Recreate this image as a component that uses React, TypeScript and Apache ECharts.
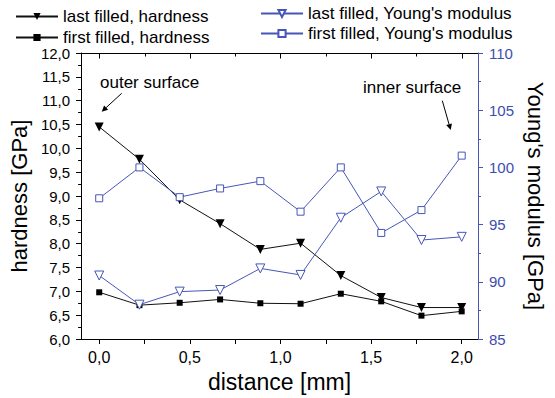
import React, { useEffect, useRef } from "react";
import * as echarts from "echarts";

const distance = [0, 0.222, 0.444, 0.667, 0.889, 1.111, 1.333, 1.556, 1.778, 2.0];
const hardnessLast = [10.45, 9.77, 8.92, 8.42, 7.88, 8.01, 7.33, 6.87, 6.66, 6.66];
const hardnessFirst = [6.98, 6.71, 6.76, 6.83, 6.75, 6.74, 6.95, 6.79, 6.49, 6.58];
const youngLast = [90.55, 88.0, 89.14, 89.28, 91.17, 90.6, 95.6, 97.9, 93.65, 93.93];
const youngFirst = [97.3, 100.0, 97.4, 98.16, 98.8, 96.13, 100.0, 94.27, 96.27, 101.03];
const xTicks = [0, 0.25, 0.5, 0.75, 1.0, 1.25, 1.5, 1.75, 2.0];
const xLabels = [0, 0.5, 1.0, 1.5, 2.0];
const X_MIN = -0.1;
const X_MAX = 2.09;
const H_MIN = 6;
const H_MAX = 12;

const FONT = "'Liberation Sans', Arial, sans-serif";
const BLUE = "#4656b8";
const BLUE_TXT = "#3d4db0";

const GRID = { left: 80, right: 77, top: 53, bottom: 49 };
const W = 555;

const fmt = (v: number) => v.toFixed(1).replace(".", ",");
const pairs = (ys: number[]) => ys.map((y, i) => [distance[i], y]);

function arrow(x1: number, y1: number, x2: number, y2: number) {
  const a = Math.atan2(y2 - y1, x2 - x1);
  const L = 6, Wd = 3;
  const bx = x2 - L * Math.cos(a), by = y2 - L * Math.sin(a);
  const px = -Math.sin(a) * Wd, py = Math.cos(a) * Wd;
  return [
    { type: "line", shape: { x1, y1, x2: bx, y2: by }, style: { stroke: "#000", lineWidth: 1 } },
    {
      type: "polygon",
      shape: { points: [[x2, y2], [bx + px, by + py], [bx - px, by - py]] },
      style: { fill: "#000" },
    },
  ];
}

export default function App() {
  const ref = useRef<HTMLDivElement>(null);
  useEffect(() => {
    const chart = echarts.init(ref.current!, null, { renderer: "svg" });
    chart.setOption({
      animation: false,
      textStyle: { fontFamily: FONT },
      grid: GRID,
      legend: [
        {
          data: ["last filled, hardness", "first filled, hardness"],
          left: 10,
          top: 3,
          orient: "vertical",
          itemWidth: 42,
          itemHeight: 9,
          itemGap: 4,
          textStyle: { fontSize: 17, color: "#000", fontFamily: FONT },
        },
        {
          data: ["last filled, Young's modulus", "first filled, Young's modulus"],
          left: 255,
          top: 0,
          orient: "vertical",
          itemWidth: 42,
          itemHeight: 9,
          itemGap: 3,
          textStyle: { fontSize: 17, color: "#000", fontFamily: FONT },
        },
      ],
      xAxis: {
        type: "value",
        min: X_MIN,
        max: X_MAX,
        position: "bottom",
        splitLine: { show: false },
        axisLine: { show: true, onZero: false, lineStyle: { color: "#000", width: 1 } },
        name: "distance [mm]",
        nameLocation: "middle",
        nameGap: 31,
        nameTextStyle: { fontSize: 23, color: "#000", fontFamily: FONT },
        axisTick: { show: true, length: 5, customValues: xTicks, lineStyle: { color: "#000" } },
        axisLabel: {
          customValues: xLabels,
          formatter: fmt,
          fontSize: 16,
          color: "#000",
          margin: 10,
          fontFamily: FONT,
        },
      },
      yAxis: [
        {
          type: "value",
          min: H_MIN,
          max: H_MAX,
          interval: 0.5,
          position: "left",
          splitLine: { show: false },
          axisLine: { show: true, onZero: false, lineStyle: { color: "#000" } },
          axisTick: { show: true, length: 5, lineStyle: { color: "#000" } },
          minorTick: { show: true, splitNumber: 2, length: 3, lineStyle: { color: "#000" } },
          axisLabel: { formatter: fmt, fontSize: 15, color: "#000", margin: 11, fontFamily: FONT },
          name: "hardness [GPa]",
          nameLocation: "middle",
          nameGap: 46,
          nameRotate: 90,
          nameTextStyle: { fontSize: 22, color: "#000", fontFamily: FONT },
        },
        {
          type: "value",
          min: 85,
          max: 110,
          interval: 5,
          position: "right",
          splitLine: { show: false },
          axisLine: { show: true, onZero: false, lineStyle: { color: BLUE } },
          axisTick: { show: true, length: 5, lineStyle: { color: BLUE } },
          minorTick: { show: true, splitNumber: 2, length: 3, lineStyle: { color: BLUE } },
          axisLabel: { fontSize: 15, color: BLUE_TXT, margin: 11, fontFamily: FONT },
          name: "Young's modulus [GPa]",
          nameLocation: "middle",
          nameGap: 42,
          nameRotate: -90,
          nameTextStyle: { fontSize: 22, color: "#000", fontFamily: FONT },
        },
      ],
      series: [
        {
          name: "last filled, hardness",
          type: "line",
          yAxisIndex: 0,
          data: pairs(hardnessLast),
          symbol: "triangle",
          symbolRotate: 180,
          symbolSize: 9,
          lineStyle: { color: "#111", width: 1 },
          itemStyle: { color: "#000" },
        },
        {
          name: "first filled, hardness",
          type: "line",
          yAxisIndex: 0,
          data: pairs(hardnessFirst),
          symbol: "rect",
          symbolSize: 6,
          lineStyle: { color: "#111", width: 1 },
          itemStyle: { color: "#000" },
        },
        {
          name: "last filled, Young's modulus",
          type: "line",
          yAxisIndex: 1,
          data: pairs(youngLast),
          symbol: "triangle",
          symbolRotate: 180,
          symbolSize: 9,
          lineStyle: { color: BLUE, width: 1 },
          itemStyle: { color: "#fff", borderColor: BLUE, borderWidth: 1 },
        },
        {
          name: "first filled, Young's modulus",
          type: "line",
          yAxisIndex: 1,
          data: pairs(youngFirst),
          symbol: "rect",
          symbolSize: 7,
          lineStyle: { color: BLUE, width: 1 },
          itemStyle: { color: "#fff", borderColor: BLUE, borderWidth: 1 },
        },
      ],
    });

    // top frame with inward ticks, placed through the chart's own scales
    const gx0 = GRID.left;
    const gx1 = W - GRID.right;
    const toPx = (v: number): [number, number] => {
      let r: any = null;
      try {
        r = chart.convertToPixel({ seriesIndex: 0 }, [v, H_MAX]);
      } catch (e) {
        r = null;
      }
      if (Array.isArray(r) && isFinite(r[0]) && isFinite(r[1])) return [r[0], r[1]];
      return [gx0 + ((v - X_MIN) / (X_MAX - X_MIN)) * (gx1 - gx0), GRID.top];
    };
    const yTop = Math.round(toPx(X_MIN)[1]) + 0.5;
    const frame: any[] = [
      {
        type: "line",
        z: 100,
        shape: { x1: toPx(X_MIN)[0], y1: yTop, x2: toPx(X_MAX)[0], y2: yTop },
        style: { stroke: "#000", lineWidth: 1 },
      },
    ];
    xTicks.forEach((v) => {
      const x = Math.round(toPx(v)[0]) + 0.5;
      const len = Math.abs(v * 2 - Math.round(v * 2)) < 1e-6 ? 5 : 3;
      frame.push({
        type: "line",
        z: 100,
        shape: { x1: x, y1: yTop, x2: x, y2: yTop + len },
        style: { stroke: "#000", lineWidth: 1 },
      });
    });

    chart.setOption({
      graphic: [
        {
          type: "text",
          x: 100,
          y: 82,
          style: { text: "outer surface", fontSize: 17, fontFamily: FONT, fill: "#000", verticalAlign: "middle" },
        },
        {
          type: "text",
          x: 363,
          y: 87,
          style: { text: "inner surface", fontSize: 17, fontFamily: FONT, fill: "#000", verticalAlign: "middle" },
        },
        ...arrow(121.7, 93.3, 101.7, 111.7),
        ...arrow(442.3, 100.7, 450.7, 130),
        ...frame,
      ],
    });
    return () => chart.dispose();
  }, []);
  return <div ref={ref} style={{ width: 555, height: 398, position: "absolute", left: 0, top: 0 }} />;
}
